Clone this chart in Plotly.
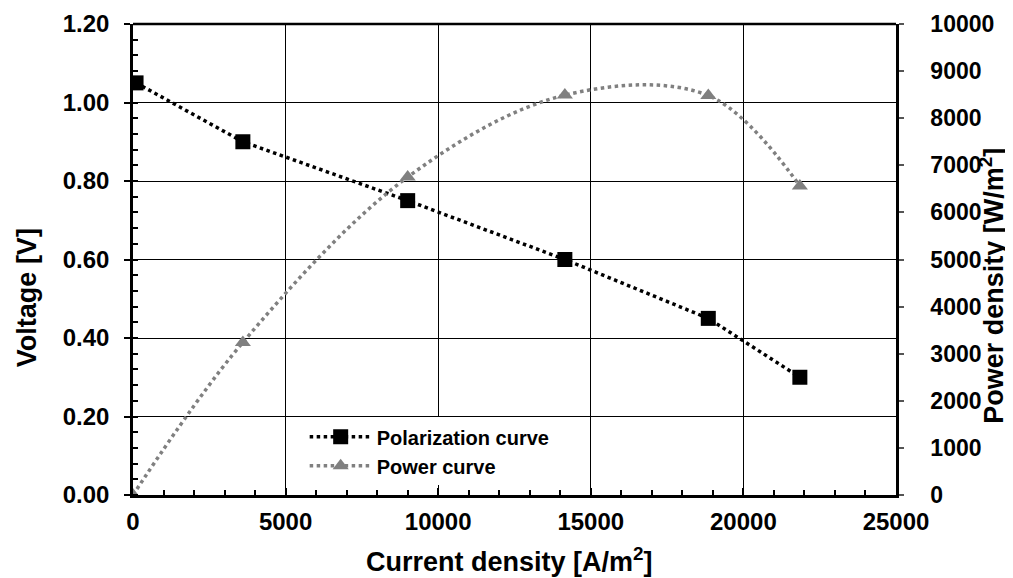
import plotly.graph_objects as go

current = [100, 3600, 9000, 14150, 18850, 21850]
voltage = [1.05, 0.90, 0.75, 0.60, 0.45, 0.30]
power_x = [0, 3600, 9000, 14150, 18850, 21850]
power = [0, 3240, 6750, 8490, 8480, 6560]

FONT = "Liberation Sans, Arial, sans-serif"

fig = go.Figure()
fig.add_trace(go.Scatter(
    x=current, y=voltage, name="Polarization curve", mode="lines+markers",
    line=dict(color="black", dash="dot", width=3.5),
    marker=dict(symbol="square", size=15, color="black"),
    yaxis="y"))
fig.add_trace(go.Scatter(
    x=power_x, y=power, name="Power curve", mode="lines+markers",
    line=dict(color="#808080", dash="dot", width=3.5, shape="spline", smoothing=1.0),
    marker=dict(symbol="triangle-up", size=14, color="#808080"),
    yaxis="y2"))

tickfont = dict(family=FONT, size=24, color="black", weight="bold")
tickfont_r = dict(family=FONT, size=23, color="black", weight="bold")
titlefont = dict(family=FONT, size=27, color="black", weight="bold")

fig.update_layout(
    width=1005, height=570,
    margin=dict(l=125, r=117, t=16, b=83),
    paper_bgcolor="white", plot_bgcolor="white",
    xaxis=dict(range=[0, 25000], dtick=5000, tickformat="d", automargin=False,
               showgrid=True, gridcolor="black", gridwidth=1,
               showline=True, linecolor="black", linewidth=2.5, mirror=False,
               ticks="inside", ticklen=7, tickcolor="black", tickwidth=2,
               minor=dict(ticks="inside", dtick=1000, ticklen=5, tickcolor="black", tickwidth=1.5, showgrid=False),
               tickfont=tickfont, ticklabelstandoff=3,
               zeroline=False),
    yaxis=dict(range=[0, 1.2], dtick=0.2, tickformat=".2f", automargin=False,
               showgrid=True, gridcolor="black", gridwidth=1,
               showline=True, linecolor="black", linewidth=2.5,
               ticks="outside", ticklen=6, tickcolor="black", tickwidth=1.5,
               minor=dict(ticks="inside", dtick=0.04, ticklen=5, tickcolor="black", tickwidth=1.5, showgrid=False),
               tickfont=tickfont, ticklabelstandoff=10,
               zeroline=False),
    yaxis2=dict(range=[0, 10000], dtick=1000, tickformat="d", overlaying="y", side="right",
                automargin=False,
                showgrid=False, showline=True, linecolor="black", linewidth=2.5,
                ticks="outside", ticklen=5, tickcolor="#555555", tickwidth=1.5,
                tickfont=tickfont_r, ticklabelstandoff=22,
                zeroline=False),
    showlegend=True,
    legend=dict(x=0.225, y=0.165, xanchor="left", yanchor="top",
                bgcolor="white", font=dict(family=FONT, size=20, color="black", weight="bold"),
                tracegroupgap=0, itemwidth=62),
    shapes=[dict(type="line", xref="paper", yref="paper", x0=0, x1=1, y0=1, y1=1,
                 line=dict(color="black", width=2.5))],
    annotations=[
        dict(text="Current density [A/m<sup>2</sup>]", xref="paper", yref="paper",
             x=0.494, y=-0.138, xanchor="center", yanchor="middle", showarrow=False, font=titlefont),
        dict(text="Voltage [V]", xref="paper", yref="paper", textangle=-90,
             x=-0.1389, y=0.418, xanchor="center", yanchor="middle", showarrow=False, font=titlefont),
        dict(text="Power density [W/m<sup>2</sup>]", xref="paper", yref="paper", textangle=-90,
             x=1.1255, y=0.4437, xanchor="center", yanchor="middle", showarrow=False, font=titlefont),
    ],
)

fig.write_html("out.html")
